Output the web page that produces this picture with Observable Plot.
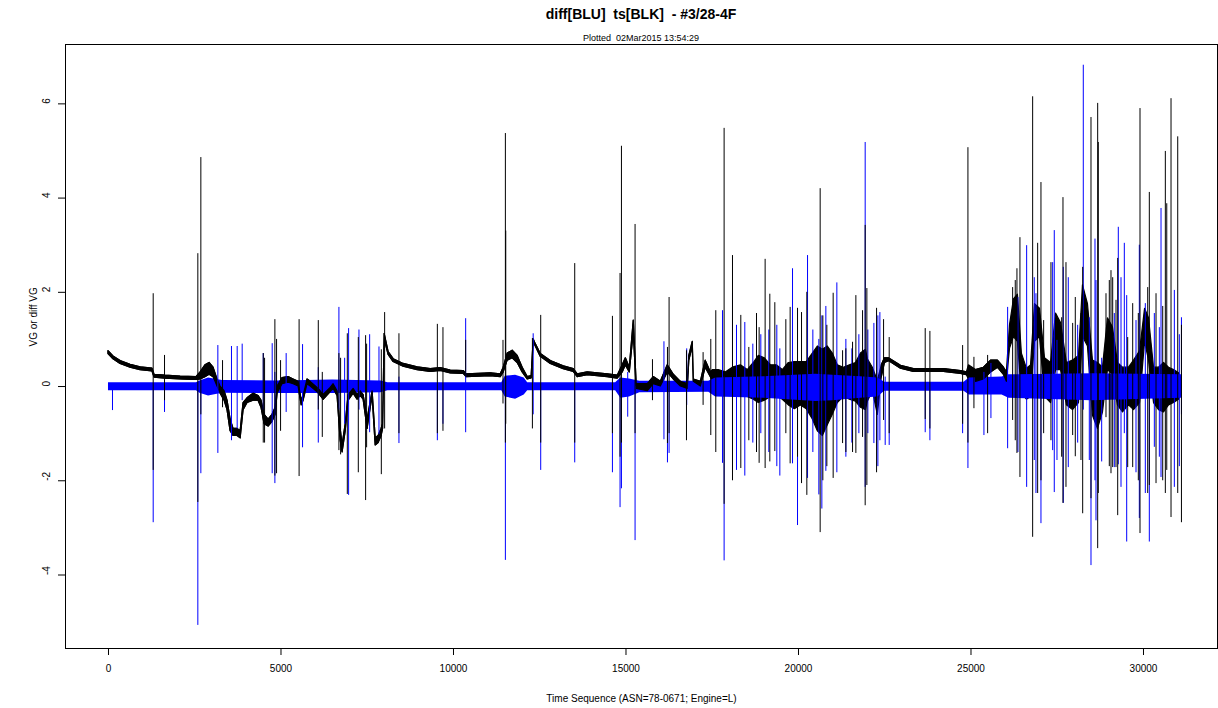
<!DOCTYPE html>
<html>
<head>
<meta charset="utf-8">
<script src="https://cdn.jsdelivr.net/npm/d3@7"></script>
<script src="https://cdn.jsdelivr.net/npm/@observablehq/plot@0.6"></script>
<style>
  body { margin: 0; background: #fff; font-family: "Liberation Sans", Arial, sans-serif; }
  #head { position: relative; width: 1218px; height: 36px; }
  #title { position: absolute; left: 65px; width: 1152px; top: 6px; text-align: center;
           font: bold 14px "Liberation Sans", Arial, sans-serif; line-height: 16px; white-space: pre; color: #000; }
  #sub { position: absolute; left: 65px; width: 1152px; top: 33px; text-align: center;
         font: 9px "Liberation Sans", Arial, sans-serif; line-height: 10px; white-space: pre; color: #000; }
  #chart svg { display: block; }
</style>
</head>
<body>
<div id="head">
  <div id="title">diff[BLU]  ts[BLK]  - #3/28-4F</div>
  <div id="sub">Plotted  02Mar2015 13:54:29</div>
</div>
<div id="chart"></div>
<script>
// Axis ticks and titles
const xTicks = [0, 5000, 10000, 15000, 20000, 25000, 30000];
const yTicks = [-4, -2, 0, 2, 4, 6];
const xTitle = "Time Sequence (ASN=78-0671; Engine=L)";
const yTitle = "VG or diff VG";

// ts (black): running level of the trace as [t, low, high]; noisy stretches get a wider band
const blkCore = [
  [0, 0.69, 0.75], [145, 0.58, 0.64], [350, 0.48, 0.54], [640, 0.40, 0.46], [930, 0.35, 0.41],
  [1275, 0.32, 0.38], [1335, 0.19, 0.25], [1650, 0.17, 0.23], [2090, 0.15, 0.21], [2550, 0.14, 0.20],
  [2670, 0.15, 0.30], [2810, 0.20, 0.45], [2930, 0.25, 0.50], [3045, 0.20, 0.40], [3160, 0.00, 0.15],
  [3250, -0.15, 0.00], [3365, -0.30, -0.10], [3450, -0.50, -0.30], [3540, -0.95, -0.70], [3625, -1.05, -0.90],
  [3740, -1.05, -0.90], [3830, -1.10, -0.95], [3915, -0.50, -0.35], [4030, -0.35, -0.25], [4205, -0.30, -0.15],
  [4350, -0.30, -0.20], [4435, -0.45, -0.30], [4525, -0.80, -0.60], [4640, -0.85, -0.70], [4755, -0.75, -0.60],
  [4845, -0.60, -0.45], [4900, -0.15, 0.00], [5045, 0.05, 0.18], [5220, 0.08, 0.20], [5365, 0.05, 0.15],
  [5510, 0.00, 0.10], [5600, -0.40, -0.30], [5655, -0.30, -0.20], [5770, 0.05, 0.15], [5860, 0.00, 0.10],
  [6060, -0.12, -0.03], [6150, -0.20, -0.10], [6235, -0.28, -0.18], [6440, -0.12, -0.03], [6525, -0.05, 0.05],
  [6640, -0.20, -0.10], [6730, -1.15, -0.90], [6785, -1.40, -1.25], [6875, -0.95, -0.80], [6960, -0.30, -0.18],
  [7105, -0.15, -0.05], [7220, -0.28, -0.18], [7310, -0.20, -0.10], [7395, -0.28, -0.18], [7510, -0.90, -0.70],
  [7570, -0.60, -0.45], [7655, -0.20, -0.10], [7745, -1.25, -1.10], [7830, -1.20, -1.05], [7915, -1.05, -0.90],
  [7960, -0.90, -0.80], [8005, 1.00, 1.12], [8120, 0.67, 0.73], [8265, 0.52, 0.58], [8555, 0.42, 0.48],
  [8960, 0.35, 0.41], [9340, 0.31, 0.37], [9630, 0.33, 0.39], [9920, 0.28, 0.34], [10295, 0.27, 0.33],
  [10380, 0.20, 0.26], [11080, 0.22, 0.28], [11370, 0.20, 0.26], [11455, 0.30, 0.40], [11570, 0.55, 0.70],
  [11715, 0.60, 0.76], [11860, 0.50, 0.65], [12005, 0.30, 0.40], [12150, 0.15, 0.20], [12265, 0.17, 0.22],
  [12325, 0.95, 1.00], [12385, 0.85, 0.90], [12530, 0.63, 0.69], [12820, 0.48, 0.54], [13195, 0.37, 0.43],
  [13485, 0.31, 0.37], [13600, 0.20, 0.26], [13890, 0.24, 0.30], [14470, 0.20, 0.26], [14760, 0.17, 0.23],
  [14905, 0.30, 0.45], [14995, 0.45, 0.60], [15110, 0.30, 0.40], [15225, 1.15, 1.40], [15310, -0.05, 0.05],
  [15630, -0.10, 0.05], [15805, 0.05, 0.20], [16010, 0.00, 0.10], [16210, 0.30, 0.45], [16385, 0.15, 0.25],
  [16590, 0.00, 0.10], [16790, -0.05, 0.05], [16835, 0.55, 0.65], [16935, 0.85, 0.95], [16965, 0.10, 0.15],
  [17170, 0.00, 0.10], [17310, 0.40, 0.55], [17460, 0.20, 0.30],
  [17515, 0.05, 0.35], [17690, -0.15, 0.35], [17890, -0.10, 0.30], [18095, -0.18, 0.40], [18330, -0.15, 0.45],
  [18530, -0.22, 0.35], [18705, -0.28, 0.50], [18850, -0.35, 0.65], [19025, -0.30, 0.60], [19200, -0.22, 0.45],
  [19370, -0.20, 0.45], [19545, -0.28, 0.35], [19720, -0.40, 0.50], [19895, -0.48, 0.52], [20070, -0.40, 0.52],
  [20240, -0.48, 0.52], [20415, -0.70, 0.70], [20560, -0.95, 0.85], [20705, -1.05, 0.78], [20850, -0.82, 0.85],
  [20995, -0.60, 0.70], [21140, -0.35, 0.45], [21315, -0.22, 0.40], [21490, -0.28, 0.45], [21665, -0.32, 0.50],
  [21810, -0.45, 0.70], [21955, -0.50, 0.78], [22010, -0.32, 0.58], [22155, -0.10, 0.40], [22300, -0.60, 0.12],
  [22415, 0.20, 0.45], [22505, 0.50, 0.60], [22620, 0.54, 0.60], [22970, 0.38, 0.44], [23345, 0.31, 0.37],
  [23750, 0.31, 0.37], [24215, 0.31, 0.37], [24710, 0.27, 0.33], [24880, 0.24, 0.30], [24940, 0.15, 0.45],
  [25145, 0.10, 0.35], [25375, 0.15, 0.40], [25580, 0.30, 0.55], [25780, 0.40, 0.55], [25955, 0.25, 0.40],
  [26040, 0.10, 0.30], [26130, 0.80, 1.30], [26245, 1.05, 1.85], [26360, 0.95, 1.95], [26475, -0.15, 0.70],
  [26620, -0.28, 0.38], [26740, -0.22, 0.45], [26855, 0.95, 1.75], [27000, 1.05, 1.65], [27145, -0.22, 0.60],
  [27320, -0.35, 0.50], [27465, 0.35, 1.55], [27610, 0.35, 1.35], [27780, -0.40, 0.50], [27955, -0.50, 0.55],
  [28130, -0.35, 0.65], [28245, 1.05, 2.15], [28390, 0.85, 1.75], [28535, -0.62, 0.55], [28680, -0.90, 0.50],
  [28825, -0.55, 0.40], [28970, 0.35, 1.45], [29115, 0.25, 1.25], [29260, -0.40, 0.50], [29405, -0.55, 0.40],
  [29580, -0.40, 0.40], [29725, -0.50, 0.55], [29900, -0.35, 0.75], [30045, 0.95, 1.65], [30160, 0.55, 1.45],
  [30305, -0.35, 0.40], [30450, -0.50, 0.40], [30595, -0.55, 0.50], [30740, -0.40, 0.40], [30885, -0.35, 0.35],
  [31030, -0.28, 0.28], [31100, -0.15, 0.15]
];

// ts (black): single-sample excursions as [t, low, high]
const blkSpikes = [
  [1296, -1.78, 1.97], [1624, -0.30, 0.66], [2590, -2.46, 2.82], [2677, -0.60, 4.86], [3306, -0.45, 0.55],
  [4486, -1.20, 0.70], [4524, -1.20, 0.60], [4823, -1.90, 1.42], [4872, -1.85, 1.00], [4988, -0.95, 0.55],
  [5525, -1.91, 1.42], [6081, -0.50, 1.40], [6197, -1.08, 0.30], [6679, -1.36, 0.70], [6728, -1.45, 0.60],
  [6922, -2.29, 1.12], [7241, -1.83, 1.04], [7453, -2.42, 1.08], [7482, -1.30, 0.90], [7908, -1.87, 0.78],
  [8004, -0.90, 1.57], [8419, -1.00, 1.12], [9532, -1.00, 1.32], [9695, -0.95, 1.25], [10353, 0.20, 0.98],
  [11435, -0.37, 0.98], [11504, -1.20, 5.37], [11515, -0.80, 3.30], [12287, -0.90, 1.02], [12528, -1.20, 1.51],
  [13514, -1.20, 2.61], [14607, -1.00, 1.49], [14828, -1.50, 2.40], [14868, -1.20, 5.10], [15263, -1.00, 3.44],
  [15767, -0.30, 0.57], [16202, -1.21, 0.83], [16249, -1.00, 1.89], [16753, -1.15, 0.76], [17235, -0.40, 0.72],
  [17458, -1.04, 1.00], [17603, -1.40, 1.61], [17844, -2.50, 5.48], [18087, -2.00, 2.78], [18328, -1.74, 1.51],
  [18560, -1.15, 0.83], [18783, -1.40, 1.55], [18859, -1.63, 1.25], [19033, -1.74, 2.70], [19169, -1.60, 1.96],
  [19314, -1.38, 1.78], [19633, -1.00, 1.42], [19758, -1.64, 1.68], [19972, -1.50, 1.66], [20088, -2.06, 1.57],
  [20242, -2.31, 2.00], [20628, -3.10, 4.20], [20706, -2.00, 1.50], [20822, -1.70, 1.30], [21005, -1.95, 1.98],
  [21278, -1.21, 0.76], [21373, -1.40, 0.80], [21567, -1.40, 0.94], [21663, -1.42, 1.93], [21857, -1.08, 1.61],
  [21933, -2.53, 3.42], [21982, -2.10, 2.08], [22263, -1.83, 1.66], [22466, -0.72, 1.42], [22629, -1.00, 1.04],
  [23673, -0.70, 1.23], [23809, -0.90, 1.17], [24757, -0.80, 0.87], [24911, -1.20, 5.07], [25085, -0.47, 0.62],
  [25482, -1.00, 0.66], [26207, -0.72, 2.10], [26283, -1.15, 2.25], [26332, -1.42, 2.50], [26419, -1.93, 3.16],
  [26787, -3.20, 6.15], [26932, -2.27, 3.04], [27028, -2.00, 4.33], [27106, -1.00, 1.40], [27318, -1.15, 2.63],
  [27628, -1.50, 1.46], [27666, -2.48, 4.01], [27753, -2.14, 2.63], [27947, -1.04, 1.34], [28023, -1.49, 1.89],
  [28188, -1.57, 1.55], [28237, -2.70, 2.53], [28478, -2.38, 5.71], [28672, -3.44, 6.01], [28690, -2.27, 5.18],
  [28913, -0.66, 1.97], [29009, -1.70, 2.25], [29058, -1.85, 2.46], [29107, -1.72, 2.31], [29203, -1.72, 1.83],
  [29252, -2.74, 2.72], [29542, -1.72, 1.04], [29687, -1.72, 1.76], [29850, -2.00, 1.55], [29899, -3.12, 5.90],
  [30122, -2.27, 2.10], [30169, -2.10, 4.12], [30363, -2.06, 1.97], [30557, -2.00, 1.70], [30633, -2.27, 4.99],
  [30674, -1.78, 3.88], [30798, -2.78, 6.11], [30992, -2.27, 5.30], [31100, -2.89, 1.30]
];

// diff (blue): spread of the differenced series around zero as [t, low, high]
const bluBand = [
  [0, -0.09, 0.08], [2550, -0.09, 0.08], [2650, -0.14, 0.12], [2900, -0.20, 0.18], [3300, -0.14, 0.13],
  [5000, -0.15, 0.12], [6500, -0.15, 0.14], [7900, -0.13, 0.12], [8100, -0.09, 0.08], [11400, -0.09, 0.08],
  [11500, -0.22, 0.22], [11800, -0.27, 0.24], [12050, -0.18, 0.18], [12150, -0.09, 0.08], [14700, -0.09, 0.08],
  [14850, -0.25, 0.18], [15100, -0.22, 0.16], [15400, -0.13, 0.11], [17400, -0.12, 0.11], [17600, -0.22, 0.18],
  [19000, -0.25, 0.21], [20500, -0.32, 0.26], [21000, -0.30, 0.24], [21800, -0.25, 0.21], [22300, -0.22, 0.18],
  [22500, -0.10, 0.09], [24800, -0.10, 0.09], [24950, -0.18, 0.18], [25900, -0.18, 0.20], [26100, -0.25, 0.25],
  [28500, -0.30, 0.27], [31100, -0.25, 0.25]
];

// diff (blue): single-sample excursions as [t, low, high]
const bluSpikes = [
  [116, -0.51, 0.05], [1296, -2.89, 0.00], [1624, -0.55, 0.00], [2590, -5.07, 0.00], [2677, -1.85, 0.00],
  [3170, -1.42, 0.87], [3565, -1.15, 0.85], [3730, -0.90, 0.85], [3875, -0.30, 0.90], [4486, -0.50, 0.70],
  [4745, -1.85, 0.91], [4823, -2.06, 0.30], [5150, -0.55, 0.70], [5625, -1.30, 0.89], [6081, -1.20, 0.40],
  [6679, -0.50, 1.68], [6845, -0.80, 0.60], [6960, -2.31, 1.23], [7260, -0.50, 1.20], [7570, -0.98, 1.10],
  [7840, -1.02, 0.84], [8419, -1.21, 0.20], [9532, -1.15, 0.00], [9695, -0.80, 0.00], [10353, -0.98, 1.44],
  [11504, -3.69, 0.00], [12310, -0.60, 1.12], [12528, -1.78, 0.00], [13514, -1.62, 0.00], [14607, -1.83, 0.00],
  [14828, -2.57, 0.00], [14868, -2.17, 0.00], [15050, -0.65, 0.30], [15263, -3.27, 0.00], [16100, -1.13, 0.95],
  [16202, -1.62, 0.50], [16249, -1.42, 0.00], [16760, -0.40, 0.80], [17797, -1.63, 1.61], [17844, -3.70, 0.20],
  [18087, -1.00, 1.97], [18203, -1.78, 1.30], [18444, -1.90, 1.36], [18676, -1.20, 0.90], [18908, -1.00, 1.10],
  [19140, -1.40, 1.20], [19372, -1.70, 1.30], [19459, -1.90, 0.80], [19827, -1.64, 2.50], [19972, -2.95, 0.50],
  [20262, -1.95, 2.78], [20416, -1.40, 1.20], [20590, -2.30, 1.00], [20677, -2.60, 1.50], [20793, -1.80, 1.70],
  [21112, -1.83, 2.20], [21373, -1.50, 1.00], [21547, -1.20, 0.80], [21750, -1.00, 1.10], [21933, -2.14, 5.18],
  [22011, -1.00, 1.20], [22185, -1.21, 1.34], [22301, -1.70, 1.50], [22359, -1.15, 1.57], [22513, -1.25, 0.20],
  [22629, -1.25, 0.00], [23673, -0.98, 0.00], [23809, -1.15, 0.00], [24757, -1.00, 0.00], [24911, -1.74, 0.00],
  [25375, -1.04, 0.30], [25578, -0.68, 0.49], [26062, -1.32, 1.68], [26361, -1.40, 1.89], [26613, -2.14, 2.99],
  [26834, -1.57, 2.31], [26883, -2.27, 1.97], [27028, -2.91, 0.00], [27367, -1.36, 2.63], [27414, -2.25, 3.31],
  [27492, -1.57, 0.98], [27675, -2.48, 2.53], [27820, -1.72, 2.31], [28092, -1.20, 1.30], [28255, -0.50, 6.82],
  [28429, -1.57, 1.46], [28478, -3.80, 0.00], [28594, -2.00, 3.13], [28623, -2.85, 2.25], [28788, -1.60, 0.60],
  [29154, -1.72, 1.55], [29270, -1.66, 3.38], [29348, -2.14, 2.31], [29444, -1.00, 3.04], [29513, -3.30, 1.93],
  [29783, -1.83, 1.40], [29879, -2.80, 3.00], [30053, -2.27, 1.76], [30169, -3.30, 0.00], [30314, -1.29, 1.55],
  [30459, -1.50, 1.25], [30508, -1.93, 3.78], [30894, -2.14, 2.04], [31039, -1.70, 1.10], [31100, -0.60, 1.46]
];

const rows = a => a.map(([t, lo, hi]) => ({t, lo, hi}));
const core = rows(blkCore);
// slow, quiet stretches of the black trace are drawn again above the blue band
const quiet = d => d.hi - d.lo < 0.28;

const chart = Plot.plot({
  width: 1218,
  height: 672,
  marginTop: 8,
  marginBottom: 60,
  marginLeft: 65,
  marginRight: 1,
  style: {
    fontFamily: '"Liberation Sans", Arial, sans-serif',
    fontSize: "10px",
    color: "#000",
    background: "#fff",
    overflow: "visible"
  },
  x: {domain: [-1246, 32145], axis: null},
  y: {domain: [-5.56, 7.26], axis: null},
  marks: [
    // busy stretches of the black trace sit beneath the blue band
    Plot.areaY(core, {x: "t", y1: "lo", y2: "hi", fill: "#000", stroke: "#000", strokeWidth: 1.2, strokeLinejoin: "round"}),
    Plot.areaY(rows(bluBand), {x: "t", y1: "lo", y2: "hi", fill: "#0000ff"}),
    Plot.areaY(core, {x: "t", y1: d => quiet(d) ? d.lo : NaN, y2: d => quiet(d) ? d.hi : NaN,
                      fill: "#000", stroke: "#000", strokeWidth: 1.2, strokeLinejoin: "round"}),
    Plot.ruleX(rows(bluSpikes), {x: "t", y1: "lo", y2: "hi", stroke: "#0000ff", strokeWidth: 1}),
    Plot.ruleX(rows(blkSpikes), {x: "t", y1: "lo", y2: "hi", stroke: "#000", strokeWidth: 1}),
    Plot.frame({stroke: "#000"}),
    Plot.axisX({anchor: "bottom", ticks: xTicks, tickSize: 7, tickPadding: 9, tickFormat: d => String(d), label: null}),
    Plot.axisY({anchor: "left", ticks: yTicks, tickSize: 7, tickFormat: () => "", label: null}),
    Plot.text(yTicks, {y: d => d, text: d => String(d), frameAnchor: "left", dx: -19, rotate: -90}),
    Plot.text([xTitle], {text: d => d, frameAnchor: "bottom", dy: 53}),
    Plot.text([yTitle], {text: d => d, frameAnchor: "left", dx: -32, rotate: -90})
  ]
});
document.getElementById("chart").append(chart);
</script>
</body>
</html>
